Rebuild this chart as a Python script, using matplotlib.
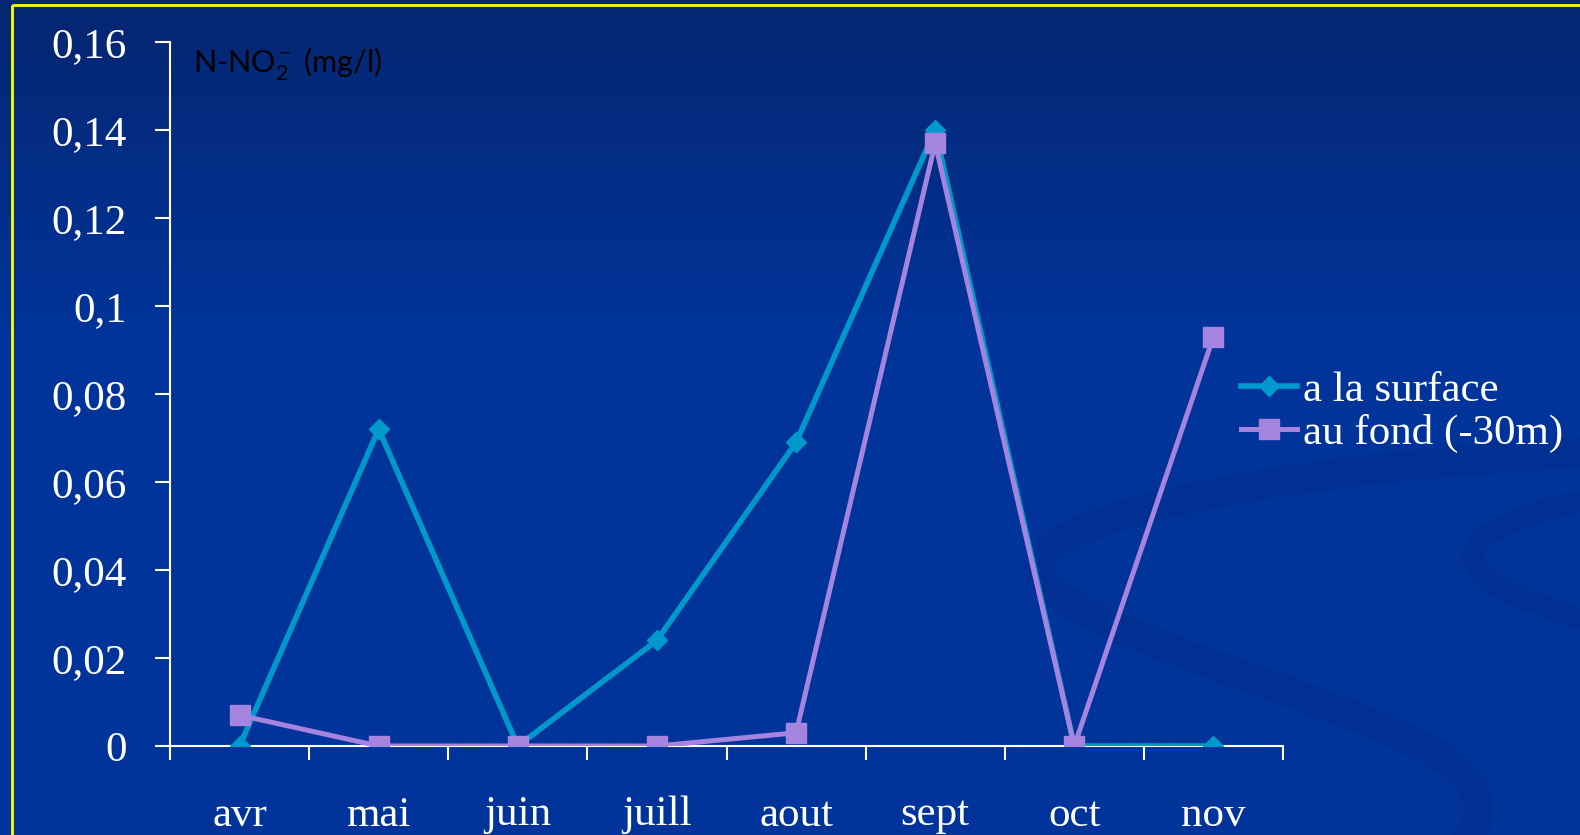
import numpy as np
import matplotlib
matplotlib.use("Agg")
import matplotlib.pyplot as plt
from matplotlib.path import Path
from matplotlib.patches import PathPatch, Rectangle
from matplotlib.ticker import FuncFormatter, FixedLocator

# ------------------------------------------------------
# DATA
# ------------------------------------------------------

MONTHS = ["avr", "mai", "juin", "juill", "aout", "sept", "oct", "nov"]
SURFACE = [0.0, 0.072, 0.0, 0.024, 0.069, 0.140, 0.0, 0.0]
BOTTOM = [0.007, 0.0, 0.0, 0.0, 0.003, 0.137, 0.0, 0.093]
Y_TICKS = [0, 0.02, 0.04, 0.06, 0.08, 0.10, 0.12, 0.14, 0.16]

SERIF = "Liberation Serif"
W, H = 1580, 835

plt.rcParams["mathtext.fontset"] = "custom"
plt.rcParams["mathtext.rm"] = "Lato"
plt.rcParams["mathtext.it"] = "Lato:italic"

fig = plt.figure(figsize=(W / 100, H / 100), dpi=100)

# ------------------------------------------------------
# SLIDE BACKGROUND
# ------------------------------------------------------

bg = fig.add_axes([0, 0, 1, 1], zorder=0)
bg.set_xlim(0, W)
bg.set_ylim(H, 0)
bg.axis("off")

top_col = np.array([6, 38, 112]) / 255
mid_col = np.array([0, 52, 154]) / 255
t = np.clip(np.linspace(0, 1, H) / 0.40, 0, 1)[:, None]
grad = top_col * (1 - t) + mid_col * t
grad = np.repeat(grad[:, None, :], 2, axis=1)
bg.imshow(grad, extent=(0, W, H, 0), aspect="auto", interpolation="bilinear")

# faint swirl decoration, bottom right
swirl_col = "#002a80"
swirls = [
    ([(1600, 452), (1300, 465), (1030, 515), (1040, 570),
      (1050, 625), (1300, 685), (1420, 745),
      (1510, 790), (1480, 840), (1440, 860)], 22),
    ([(1600, 498), (1500, 515), (1455, 545), (1480, 572),
      (1505, 598), (1570, 615), (1600, 625)], 16),
]
for pts, lw in swirls:
    codes = [Path.MOVETO] + [Path.CURVE4] * (len(pts) - 1)
    bg.add_patch(PathPatch(Path(pts, codes), facecolor="none",
                           edgecolor=swirl_col, lw=lw, alpha=0.3,
                           capstyle="round"))

bg.add_patch(Rectangle((12, 5), W + 50, H + 50, fill=False,
                       edgecolor="#ffff00", lw=2.0))

# ------------------------------------------------------
# CHART
# ------------------------------------------------------

ax = fig.add_axes([170 / W, (H - 746) / H, 1113 / W, 704 / H], zorder=2)
ax.patch.set_alpha(0)

x = np.arange(len(MONTHS))
ax.plot(x, SURFACE, color="#0099cc", lw=4.0, marker="D", ms=10.5,
        mec="#0099cc", label="a la surface", zorder=3)
ax.plot(x, BOTTOM, color="#a484de", lw=3.6, marker="s", ms=14.5,
        mec="#a484de", label="au fond (-30m)", zorder=4)

ax.set_xlim(-0.5, len(MONTHS) - 0.5)
ax.set_ylim(0, 0.16)

for side in ["top", "right"]:
    ax.spines[side].set_visible(False)
for side in ["left", "bottom"]:
    ax.spines[side].set_color("white")
    ax.spines[side].set_linewidth(1.5)

ax.set_yticks(Y_TICKS)
ax.yaxis.set_major_formatter(FuncFormatter(lambda v, p: ("%g" % v).replace(".", ",")))
ax.tick_params(axis="y", colors="white", length=11, width=1.5, pad=20,
               labelsize=31)

ax.xaxis.set_major_locator(FixedLocator(np.arange(-0.5, len(MONTHS), 1.0)))
ax.xaxis.set_minor_locator(FixedLocator(x))
ax.xaxis.set_major_formatter(FuncFormatter(lambda v, p: ""))
ax.xaxis.set_minor_formatter(FuncFormatter(lambda v, p: MONTHS[int(round(v))]))
ax.tick_params(axis="x", which="major", colors="white", length=10, width=1.5)
ax.tick_params(axis="x", which="minor", colors="white", length=0, pad=36,
               labelsize=31)

for lab in ax.get_xticklabels(minor=True) + ax.get_yticklabels():
    lab.set_fontfamily(SERIF)

fig.text(193 / W, 1 - 64 / H, r"N-NO$_2^-$ (mg/l)", family="Lato",
         fontsize=22, color="black", va="center", ha="left")

leg = ax.legend(loc="center left", bbox_to_anchor=(1241 / W, 1 - 412 / H),
                bbox_transform=fig.transFigure, frameon=False,
                prop={"family": SERIF, "size": 31}, handlelength=1.3,
                handletextpad=0.15, labelspacing=0.1, borderpad=0,
                borderaxespad=0, numpoints=1)
for txt in leg.get_texts():
    txt.set_color("white")

fig.savefig("out.png", dpi=100)
